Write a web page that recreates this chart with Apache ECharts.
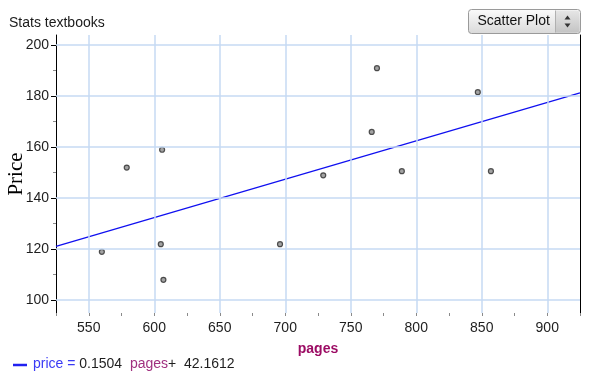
<!DOCTYPE html>
<html>
<head>
<meta charset="utf-8">
<title>Stats textbooks</title>
<script src="https://cdn.jsdelivr.net/npm/echarts@6/dist/echarts.min.js"></script>
<style>
  html, body { margin: 0; padding: 0; background: #fff; }
  #chart { width: 590px; height: 375px; }
</style>
</head>
<body>
<div id="chart"></div>
<script>
// Textbook page counts and prices
const pages = [560, 579, 606, 605, 607, 696, 729, 766, 770, 789, 847, 857];
const price = [119, 152, 159, 122, 108, 122, 149, 166, 191, 150.6, 181.6, 150.6];

// Least-squares line: price = slope * pages + intercept
const slope = 0.1504;
const intercept = 42.1612;

// Axis ranges and tick values
const xMin = 525, xMax = 925, xStep = 25;
const xGrid = [550, 600, 650, 700, 750, 800, 850, 900];
const yMin = 95, yMax = 204;
const yMajor = [100, 120, 140, 160, 180, 200];
const yMinor = [110, 130, 150, 170, 190];

const font = '"Liberation Sans", Arial, sans-serif';
const gridColor = '#c6daf3';

const points = pages.map((p, i) => [p, price[i]]);
const fitLine = [xMin, xMax].map(x => [x, slope * x + intercept]);

const chart = echarts.init(document.getElementById('chart'), null, { renderer: 'canvas' });

const gridMarks = xGrid.map(v => ({ xAxis: v })).concat(yMajor.map(v => ({ yAxis: v })));

chart.setOption({
  animation: false,
  backgroundColor: '#ffffff',
  textStyle: { fontFamily: font },
  title: {
    text: 'Stats textbooks',
    left: 9, top: 16, padding: 0,
    textStyle: { fontFamily: font, fontSize: 14, fontWeight: 'normal', color: '#1a1a1a' }
  },
  grid: { left: 56, right: 10, top: 35, bottom: 62, containLabel: false, outerBoundsMode: 'none' },
  xAxis: {
    type: 'value',
    min: xMin, max: xMax, interval: xStep,
    name: 'pages',
    nameLocation: 'middle',
    nameGap: 29,
    nameMoveOverlap: false,
    nameTextStyle: { fontFamily: font, fontSize: 14, fontWeight: 'bold', color: '#9c0c64' },
    axisLine: { show: false },
    axisTick: { show: true, length: 3, lineStyle: { color: '#8a8a8a', width: 1 } },
    axisLabel: {
      margin: 8, fontSize: 14, color: '#1e1e1e', fontFamily: font,
      formatter: v => (xGrid.indexOf(v) >= 0 ? String(v) : '')
    },
    splitLine: { show: false }
  },
  yAxis: [
    {
      type: 'value', min: yMin, max: yMax, position: 'left',
      name: 'Price',
      nameLocation: 'middle',
      nameGap: 29,
      nameMoveOverlap: false,
      nameTextStyle: { fontFamily: '"Liberation Serif", "Times New Roman", serif', fontSize: 21, color: '#000' },
      axisLine: { show: true, lineStyle: { color: '#000', width: 1 } },
      axisTick: { show: true, customValues: yMajor, length: 5, lineStyle: { color: '#000', width: 1 } },
      axisLabel: { customValues: yMajor, margin: 7, fontSize: 14, color: '#1e1e1e', fontFamily: font },
      splitLine: { show: false }
    },
    {
      type: 'value', min: yMin, max: yMax, position: 'left',
      axisLine: { show: false },
      axisTick: { show: true, customValues: yMinor, length: 3, lineStyle: { color: '#8a8a8a', width: 1 } },
      axisLabel: { show: false },
      splitLine: { show: false }
    },
    {
      type: 'value', min: yMin, max: yMax, position: 'right',
      axisLine: { show: true, lineStyle: { color: '#000', width: 1 } },
      axisTick: { show: false },
      axisLabel: { show: false },
      splitLine: { show: false }
    }
  ],
  series: [
    {
      // grid lines at the labelled values
      name: 'grid',
      type: 'scatter',
      data: [],
      z: 1,
      silent: true,
      markLine: {
        silent: true,
        symbol: ['none', 'none'],
        label: { show: false },
        lineStyle: { color: gridColor, width: 1.5, type: 'solid' },
        emphasis: { disabled: true },
        data: gridMarks
      }
    },
    {
      name: 'fit',
      type: 'line',
      data: fitLine,
      z: 3,
      symbol: 'none',
      silent: true,
      lineStyle: { color: '#1010f0', width: 1.2 }
    },
    {
      name: 'textbooks',
      type: 'scatter',
      data: points,
      z: 4,
      symbol: 'circle',
      symbolSize: 5,
      itemStyle: { color: '#8c8c8c', borderColor: '#2a2a2a', borderWidth: 1.2 }
    }
  ],
  graphic: [
    // regression equation below the plot
    {
      type: 'line',
      shape: { x1: 13, y1: 365, x2: 27, y2: 365 },
      style: { stroke: '#2020f0', lineWidth: 2.5 }
    },
    {
      type: 'text',
      left: 33, top: 357,
      style: {
        text: '{a|price = }{b|0.1504  }{c|pages}{b|+  42.1612}',
        rich: {
          a: { fontFamily: font, fontSize: 14, fill: '#3a3af5' },
          b: { fontFamily: font, fontSize: 14, fill: '#1e1e1e' },
          c: { fontFamily: font, fontSize: 14, fill: '#a0307f' }
        }
      }
    },
    // plot type selector
    {
      type: 'group',
      left: 468, top: 8,
      children: [
        {
          type: 'rect',
          shape: { x: 0, y: 0, width: 112, height: 24, r: 3 },
          style: {
            fill: new echarts.graphic.LinearGradient(0, 0, 0, 1, [
              { offset: 0, color: '#fbfbfb' },
              { offset: 1, color: '#d9d9d9' }
            ]),
            stroke: '#9a9a9a', lineWidth: 1
          }
        },
        {
          type: 'rect',
          shape: { x: 87, y: 1, width: 24, height: 22, r: [0, 3, 3, 0] },
          style: {
            fill: new echarts.graphic.LinearGradient(0, 0, 0, 1, [
              { offset: 0, color: '#e6e6e6' },
              { offset: 1, color: '#c4c4c4' }
            ])
          }
        },
        {
          type: 'line',
          shape: { x1: 87, y1: 1, x2: 87, y2: 23 },
          style: { stroke: '#b0b0b0', lineWidth: 1 }
        },
        {
          type: 'polygon',
          shape: { points: [[96, 10], [102, 10], [99, 6]] },
          style: { fill: '#333' }
        },
        {
          type: 'polygon',
          shape: { points: [[96, 14], [102, 14], [99, 18]] },
          style: { fill: '#333' }
        },
        {
          type: 'text',
          x: 9, y: 12,
          style: {
            text: 'Scatter Plot',
            fontFamily: font, fontSize: 14, fill: '#111',
            verticalAlign: 'middle'
          }
        }
      ]
    }
  ]
});
</script>
</body>
</html>
